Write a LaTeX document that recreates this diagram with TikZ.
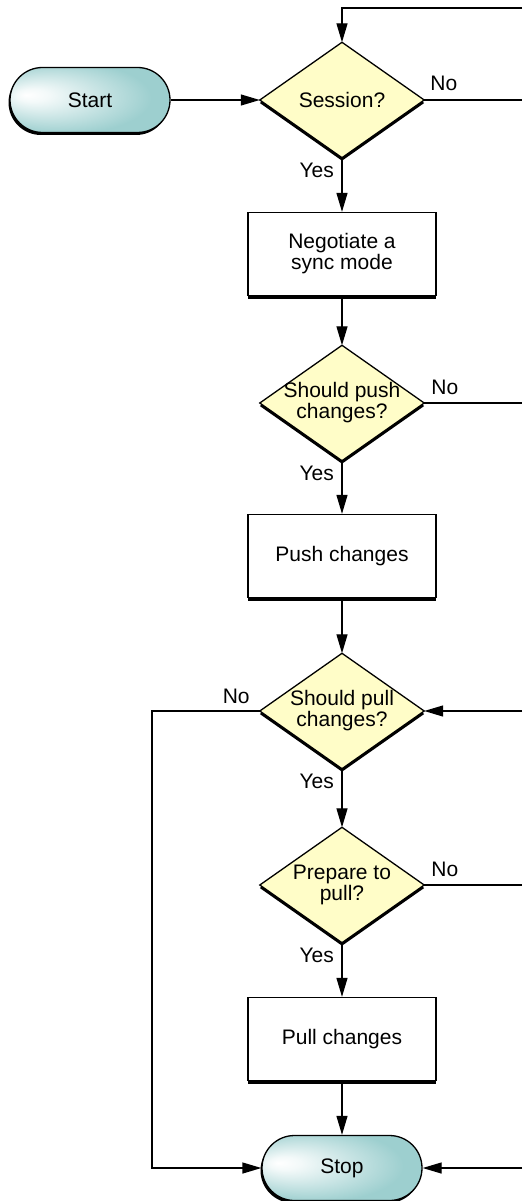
\documentclass[tikz,border=0pt]{standalone}
\usepackage{fontspec}
\setmainfont{Liberation Sans}
\usetikzlibrary{arrows.meta,shadows,backgrounds,shapes.misc}

\definecolor{pillteal}{HTML}{9DCFCF}
\definecolor{decisionfill}{HTML}{FFFDC8}

% soft highlight, a little left of and above the centre of the terminal pills
\pgfdeclareradialshading{pillglow}{\pgfpoint{-20bp}{4bp}}{%
  color(0bp)=(white); color(5bp)=(white!88!pillteal);
  color(28bp)=(pillteal); color(50bp)=(pillteal)}

\tikzset{
  txt/.style={font=\fontsize{21}{21}\selectfont, align=center},
  terminal/.style={txt, rounded rectangle, minimum width=160pt, minimum height=65pt,
    inner sep=0pt, draw, line width=1.3pt, shading=pillglow,
    drop shadow={shadow xshift=-1.5pt, shadow yshift=-2.5pt, fill=black, opacity=1}},
  process/.style={txt, rectangle, minimum width=188pt, minimum height=83pt,
    inner sep=0pt, draw, line width=1.3pt, fill=white,
    drop shadow={shadow xshift=0pt, shadow yshift=-3pt, fill=black, opacity=1}},
  decision/.style={txt, rectangle, minimum width=164pt, minimum height=115pt, inner sep=0pt},
  decisionshape/.style={fill=decisionfill, draw, line width=1.3pt, line join=miter},
  flow/.style={line width=1.3pt, -{Triangle[length=19pt,width=11pt]}},
  plain/.style={line width=1.3pt},
  lbl/.style={font=\fontsize{21}{21}\selectfont, inner sep=0pt}
}

\begin{document}
\begin{tikzpicture}[x=1pt, y=-1pt]
\useasboundingbox (0,0) rectangle (522,1201);

% nodes
\node[terminal] (start) at (90,100) {Start};
\node[decision] (d1) at (342,100) {Session?};
\node[process]  (b1) at (342,254) {Negotiate a\\sync mode};
\node[decision] (d2) at (342,403) {Should push\\changes?};
\node[process]  (b2) at (342,556) {Push changes};
\node[decision] (d3) at (342,711) {Should pull\\changes?};
\node[decision] (d4) at (342,885) {Prepare to\\pull?};
\node[process]  (b3) at (342,1039) {Pull changes};
\node[terminal] (stop) at (342,1168) {Stop};

% rails for the open-ended connectors
\coordinate (edge) at (522,8);
\coordinate (rail) at (152,0);

% decision diamonds with their shadows
\begin{scope}[on background layer]
\foreach \d in {d1,d2,d3,d4}{
  \fill[black] ([yshift=-3pt]\d.north) -- ([yshift=-3pt]\d.east) --
    ([yshift=-3pt]\d.south) -- ([yshift=-3pt]\d.west) -- cycle;
  \path[decisionshape] (\d.north) -- (\d.east) -- (\d.south) -- (\d.west) -- cycle;
}
\end{scope}

% connectors
\draw[flow] (edge) -| (d1.north);
\draw[flow] (start.east) -- (d1.west);
\draw[plain] (d1.east) -- (d1.east -| edge);
\draw[flow] (d1.south) -- (b1.north);
\draw[flow] (b1.south) -- (d2.north);
\draw[plain] (d2.east) -- (d2.east -| edge);
\draw[flow] (d2.south) -- (b2.north);
\draw[flow] (b2.south) -- (d3.north);
\draw[flow] (d3.east -| edge) -- (d3.east);
\draw[flow] (d3.west) -- (d3.west -| rail) -- (stop.west -| rail) -- (stop.west);
\draw[flow] (d3.south) -- (d4.north);
\draw[plain] (d4.east) -- (d4.east -| edge);
\draw[flow] (d4.south) -- (b3.north);
\draw[flow] (b3.south) -- (stop.north);
\draw[flow] (stop.east -| edge) -- (stop.east);

% branch labels
\node[lbl, anchor=base west] at ([xshift=6pt, yshift=9pt]d1.east) {No};
\node[lbl, anchor=base west] at ([xshift=7pt, yshift=9pt]d2.east) {No};
\node[lbl, anchor=base east] at ([xshift=-10pt, yshift=8pt]d3.west) {No};
\node[lbl, anchor=base west] at ([xshift=7pt, yshift=9pt]d4.east) {No};
\node[lbl, anchor=base east] at ([xshift=-8pt, yshift=-20pt]d1.south) {Yes};
\node[lbl, anchor=base east] at ([xshift=-8pt, yshift=-20pt]d2.south) {Yes};
\node[lbl, anchor=base east] at ([xshift=-8pt, yshift=-20pt]d3.south) {Yes};
\node[lbl, anchor=base east] at ([xshift=-8pt, yshift=-20pt]d4.south) {Yes};
\end{tikzpicture}
\end{document}
